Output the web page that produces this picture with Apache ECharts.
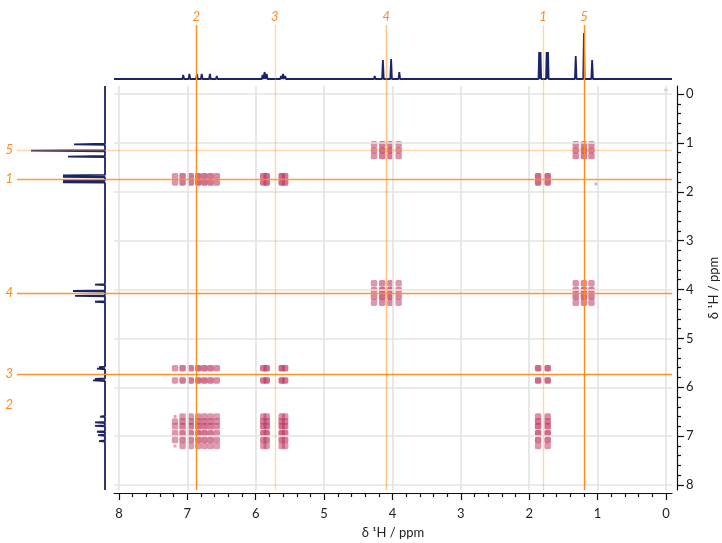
<!DOCTYPE html>
<html>
<head>
<meta charset="utf-8">
<script src="https://cdn.jsdelivr.net/npm/echarts@6/dist/echarts.min.js"></script>
<style>
  html, body { margin: 0; padding: 0; background: #fff; }
  #chart { width: 722px; height: 543px; }
</style>
</head>
<body>
<div id="chart"></div>
<script>
// axis ticks (ppm)
var ppmTicks = [0, 1, 2, 3, 4, 5, 6, 7, 8];
var minorTicks = [];
for (var t = 0; t <= 8.001; t += 0.2) {
  if (Math.abs(t - Math.round(t)) > 0.01) minorTicks.push(+t.toFixed(1));
}

// signal labels and where their guide lines sit
var sigNames = ['2', '3', '4', '1', '5'];
var sigF2 = [6.87, 5.72, 4.09, 1.80, 1.20];   // vertical lines (x)
var sigF1 = [6.36, 5.73, 4.07, 1.74, 1.15];   // horizontal lines (y)
var vLineAlpha = [1, 0.35, 0.55, 0.35, 1];
var hLineAlpha = [0, 0.95, 0.9, 0.85, 0.35];

// 1D projection on top: [ppm, height, halfwidth]
var topPeaks = [
  [7.15, 1.5, 0.012], [7.06, 4, 0.012], [6.97, 5, 0.012], [6.86, 5, 0.012],
  [6.79, 5, 0.012], [6.67, 5, 0.012], [6.57, 3, 0.012],
  [5.90, 4, 0.012], [5.87, 7, 0.012], [5.84, 5, 0.012],
  [5.63, 3, 0.012], [5.60, 5, 0.012], [5.57, 3, 0.012],
  [4.26, 3, 0.012], [4.14, 19, 0.012], [4.02, 20, 0.012], [3.90, 7, 0.012],
  [1.855, 27, 0.009], [1.835, 27, 0.009], [1.745, 27, 0.009], [1.725, 27, 0.009],
  [1.32, 23, 0.012], [1.20, 46, 0.01], [1.08, 19, 0.012]
];

// 1D projection on the left: [ppm, length, halfwidth]
var leftPeaks = [
  [1.03, 31, 0.012], [1.16, 74, 0.012], [1.28, 37, 0.012],
  [1.665, 42, 0.01], [1.695, 42, 0.01], [1.775, 42, 0.01], [1.805, 42, 0.01],
  [3.90, 10, 0.012], [4.03, 32, 0.012], [4.13, 30, 0.012], [4.25, 10, 0.012],
  [5.59, 6, 0.012], [5.62, 8, 0.012], [5.83, 10, 0.012], [5.86, 12, 0.012],
  [6.60, 5, 0.012], [6.72, 10, 0.012], [6.79, 10, 0.012], [6.91, 8, 0.012],
  [6.98, 7, 0.012], [7.10, 6, 0.012]
];

// multiplet lines of each signal in F2 (x) and F1 (y), with relative weights
var s1x = [1.87, 1.73], s1xw = [1, 1];
var s1y = [1.68, 1.81], s1yw = [1, 1];
var s2x = [7.18, 7.07, 6.95, 6.84, 6.75, 6.66, 6.57], s2xw = [0.3, 0.8, 0.8, 1, 0.9, 0.8, 0.5];
var s2y = [6.60, 6.70, 6.80, 6.94, 7.08, 7.20], s2yw = [0.4, 0.8, 0.9, 1, 0.8, 0.3];
var s3x = [5.89, 5.84, 5.62, 5.57], s3xw = [0.8, 1, 1, 0.8];
var s3y = [5.61, 5.86], s3yw = [1, 1];
var s4x = [4.27, 4.15, 4.03, 3.91], s4xw = [0.5, 1, 1, 0.5];
var s4y = [3.87, 4.01, 4.15, 4.27], s4yw = [0.5, 1, 1, 0.5];
var s5x = [1.32, 1.20, 1.09], s5xw = [0.7, 1, 0.7];
var s5y = [1.03, 1.15, 1.27], s5yw = [0.7, 1, 0.7];

// cross peaks present: [row signal (F1), column signal (F2)]
var crossPairs = [
  ['5', '5'], ['5', '4'],
  ['1', '2'], ['1', '3'], ['1', '1'],
  ['4', '4'], ['4', '5'],
  ['3', '2'], ['3', '3'], ['3', '1'],
  ['2', '2'], ['2', '3'], ['2', '1']
];
var noiseDots = [[0.0, -0.08, 0.1], [1.02, 1.84, 0.1]];

var F2 = { '1': [s1x, s1xw], '2': [s2x, s2xw], '3': [s3x, s3xw], '4': [s4x, s4xw], '5': [s5x, s5xw] };
var F1 = { '1': [s1y, s1yw], '2': [s2y, s2yw], '3': [s3y, s3yw], '4': [s4y, s4yw], '5': [s5y, s5yw] };

var dots = [];
crossPairs.forEach(function (p) {
  var ys = F1[p[0]], xs = F2[p[1]];
  for (var i = 0; i < ys[0].length; i++) {
    for (var j = 0; j < xs[0].length; j++) {
      dots.push([xs[0][j], ys[0][i], ys[1][i] * xs[1][j]]);
    }
  }
});
noiseDots.forEach(function (d) { dots.push(d); });

function spectrum(peaks, from, to, flip) {
  var s = peaks.slice().sort(function (a, b) { return b[0] - a[0]; });
  if (from < to) s.reverse();
  var pts = [[from, 0]];
  s.forEach(function (p) {
    var a = from > to ? p[2] : -p[2];
    pts.push([p[0] + a, 0], [p[0], p[1]], [p[0] - a, 0]);
  });
  pts.push([to, 0]);
  return flip ? pts.map(function (q) { return [q[1], q[0]]; }) : pts;
}

var orange = '255,140,26';
var font = 'Lato, "DejaVu Sans", sans-serif';
var xRange = { min: -0.088, max: 8.073 };
var yRange = { min: -0.164, max: 8.102 };

var gridLines = [];
ppmTicks.forEach(function (v) { gridLines.push({ xAxis: v }); gridLines.push({ yAxis: v }); });

var chart = echarts.init(document.getElementById('chart'));
var option = {
  animation: false,
  grid: [
    { left: 114, top: 86, width: 558, height: 404, outerBoundsMode: 'none' },
    { left: 114, top: 25, width: 558, height: 61, outerBoundsMode: 'none' },
    { left: 17, top: 86, width: 97, height: 404, outerBoundsMode: 'none' },
    { left: 114, top: 86, width: 558, height: 404, outerBoundsMode: 'none' }
  ],
  xAxis: [
    {
      gridIndex: 0, type: 'value', min: xRange.min, max: xRange.max, inverse: true,
      position: 'bottom', offset: 3,
      name: 'δ ¹H / ppm', nameLocation: 'middle', nameGap: 33,
      nameTextStyle: { color: '#222', fontSize: 13, fontFamily: font },
      axisLine: { onZero: false, lineStyle: { color: '#111', width: 1.2 } },
      axisTick: { customValues: ppmTicks, length: 7, lineStyle: { color: '#111', width: 1.2 } },
      axisLabel: { customValues: ppmTicks, margin: 14, color: '#222', fontSize: 13, fontFamily: font },
      splitLine: { show: false }
    },
    { gridIndex: 1, type: 'value', min: xRange.min, max: xRange.max, inverse: true, show: false },
    { gridIndex: 2, type: 'value', min: -9, max: 88, inverse: true, show: false },
    {
      gridIndex: 3, type: 'value', min: xRange.min, max: xRange.max, inverse: true,
      position: 'bottom', offset: 3,
      axisLine: { show: false, onZero: false },
      axisTick: { customValues: minorTicks, length: 4, lineStyle: { color: '#111', width: 1.2 } },
      axisLabel: { show: false }, splitLine: { show: false }
    }
  ],
  yAxis: [
    {
      gridIndex: 0, type: 'value', min: yRange.min, max: yRange.max, inverse: true,
      position: 'right', offset: 5,
      name: 'δ ¹H / ppm', nameLocation: 'middle', nameGap: 30, nameRotate: 90,
      nameTextStyle: { color: '#222', fontSize: 13, fontFamily: font },
      axisLine: { onZero: false, lineStyle: { color: '#111', width: 1.2 } },
      axisTick: { customValues: ppmTicks, length: 7, lineStyle: { color: '#111', width: 1.2 } },
      axisLabel: { customValues: ppmTicks, margin: 9, color: '#222', fontSize: 13, fontFamily: font },
      splitLine: { show: false }
    },
    { gridIndex: 1, type: 'value', min: -7, max: 54, show: false },
    { gridIndex: 2, type: 'value', min: yRange.min, max: yRange.max, inverse: true, show: false },
    {
      gridIndex: 3, type: 'value', min: yRange.min, max: yRange.max, inverse: true,
      position: 'right', offset: 5,
      axisLine: { show: false, onZero: false },
      axisTick: { customValues: minorTicks, length: 4, lineStyle: { color: '#111', width: 1.2 } },
      axisLabel: { show: false }, splitLine: { show: false }
    }
  ],
  series: [
    {
      // integer grid lines
      type: 'scatter', xAxisIndex: 0, yAxisIndex: 0, data: [], z: 1, silent: true,
      markLine: {
        silent: true, symbol: 'none', label: { show: false },
        lineStyle: { color: '#e3e3e3', width: 1.6, type: 'solid' },
        data: gridLines
      }
    },
    {
      type: 'scatter', xAxisIndex: 0, yAxisIndex: 0, z: 2, silent: true,
      symbol: 'roundRect',
      symbolSize: function (v) { return v[2] < 0.15 ? 3 : 6.5; },
      itemStyle: {
        color: function (p) {
          var w = p.value[2];
          return 'rgba(192,60,100,' + (0.55 + 0.4 * w).toFixed(2) + ')';
        }
      },
      data: dots
    },
    {
      // guide lines in main plot
      type: 'scatter', xAxisIndex: 0, yAxisIndex: 0, data: [], z: 3, silent: true,
      markLine: {
        silent: true, symbol: 'none', label: { show: false },
        data: sigF2.map(function (v, i) {
          return { xAxis: v, lineStyle: { color: 'rgba(' + orange + ',' + vLineAlpha[i] + ')', width: 1.4, type: 'solid' } };
        }).concat(sigF1.map(function (v, i) {
          return { yAxis: v, lineStyle: { color: 'rgba(' + orange + ',' + hLineAlpha[i] + ')', width: 1.4, type: 'solid' } };
        }))
      }
    },
    {
      type: 'line', xAxisIndex: 1, yAxisIndex: 1, z: 3, silent: true,
      symbol: 'none', lineStyle: { color: '#1c2468', width: 1.8 },
      data: spectrum(topPeaks, xRange.max, xRange.min, false),
      markLine: {
        silent: true, symbol: 'none',
        data: sigF2.map(function (v, i) {
          return {
            xAxis: v, name: sigNames[i],
            lineStyle: { color: 'rgba(' + orange + ',' + vLineAlpha[i] + ')', width: 1.4, type: 'solid' },
            label: { show: true, position: 'end', formatter: '{b}', distance: 2,
              color: 'rgb(' + orange + ')', fontStyle: 'italic', fontSize: 13, fontFamily: font }
          };
        })
      }
    },
    {
      type: 'line', xAxisIndex: 2, yAxisIndex: 2, z: 3, silent: true,
      symbol: 'none', lineStyle: { color: '#1c2468', width: 1.8 },
      data: spectrum(leftPeaks, yRange.min, yRange.max, true),
      markLine: {
        silent: true, symbol: 'none',
        data: sigF1.map(function (v, i) {
          return {
            yAxis: v, name: sigNames[i],
            lineStyle: { color: 'rgba(' + orange + ',' + hLineAlpha[i] + ')', width: 1.4, type: 'solid' },
            label: { show: true, position: 'end', formatter: '{b}', distance: 4,
              color: 'rgb(' + orange + ')', fontStyle: 'italic', fontSize: 13, fontFamily: font }
          };
        })
      }
    }
  ]
};
chart.setOption(option);
</script>
</body>
</html>
